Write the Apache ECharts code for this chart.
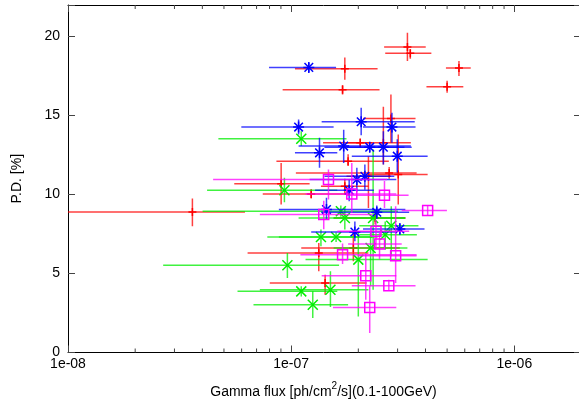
<!DOCTYPE html>
<html><head><meta charset="utf-8">
<script src="https://cdn.jsdelivr.net/npm/echarts@6/dist/echarts.min.js"></script>
<style>html,body{margin:0;padding:0;background:#fff}#c{width:579px;height:405px}</style>
</head><body><div id="c"></div>
<script>
// tick values / labels
const xTickValues = [1e-8, 1e-7, 1e-6];
const xTickLabels = ['1e-08', '1e-07', '1e-06'];
const xMinorTicks = [2e-8,3e-8,4e-8,5e-8,6e-8,7e-8,8e-8,9e-8,2e-7,3e-7,4e-7,5e-7,6e-7,7e-7,8e-7,9e-7];
const yTickValues = [0, 5, 10, 15, 20];
const yTickLabels = ['0', '5', '10', '15', '20'];
const xMin = 1e-8, xMax = 1.95e-6, yMin = 0, yMax = 22;

// each row: [flux, PD, fluxLow, fluxHigh, PDLow, PDHigh]
const redPoints = [
  [3.32e-7, 19.34, 2.61e-7, 4.01e-7, 18.46, 20.25],
  [3.42e-7, 18.94, 2.64e-7, 4.25e-7, 18.6, 19.2],
  [5.65e-7, 18.01, 4.94e-7, 6.38e-7, 17.5, 18.46],
  [5.00e-7, 16.83, 4.04e-7, 5.91e-7, 16.45, 17.2],
  [1.74e-7, 17.97, 1.04e-7, 2.44e-7, 17.27, 18.67],
  [1.70e-7, 16.64, 9.16e-8, 2.49e-7, 16.34, 16.93],
  [3.61e-8, 8.90, 5.0e-9, 6.21e-8, 7.99, 9.75],
  [2.80e-7, 14.82, 2.10e-7, 3.61e-7, 13.28, 16.34],
  [2.59e-7, 13.28, 1.39e-7, 3.44e-7, 11.9, 15.56],
  [2.04e-7, 13.28, 1.77e-7, 2.31e-7, 13.0, 13.55],
  [1.80e-7, 12.11, 8.59e-8, 2.74e-7, 11.8, 12.55],
  [3.02e-7, 11.27, 2.22e-7, 4.09e-7, 9.37, 13.8],
  [2.75e-7, 11.37, 1.05e-7, 3.65e-7, 11.0, 11.75],
  [9.02e-8, 10.68, 5.56e-8, 1.21e-7, 9.37, 12.0],
  [1.23e-7, 10.04, 7.46e-8, 1.82e-7, 9.75, 10.35],
  [1.74e-7, 10.53, 1.36e-7, 2.22e-7, 10.0, 11.0],
  [2.22e-7, 11.16, 1.77e-7, 2.80e-7, 9.15, 12.43],
  [1.33e-7, 6.30, 6.38e-8, 2.22e-7, 5.14, 6.93],
  [1.42e-7, 4.40, 8.02e-8, 2.18e-7, 3.66, 4.93],
  [1.90e-7, 6.62, 1.11e-7, 3.07e-7, 5.77, 7.57],
  [2.38e-7, 8.52, 1.55e-7, 3.25e-7, 8.1, 9.0]
];
const greenPoints = [
  [1.11e-7, 13.53, 4.72e-8, 1.77e-7, 13.07, 14.0],
  [9.33e-8, 10.27, 4.20e-8, 1.61e-7, 9.51, 11.06],
  [9.62e-8, 5.52, 2.67e-8, 1.64e-7, 4.71, 6.3],
  [1.11e-7, 3.87, 5.75e-8, 1.61e-7, 3.55, 4.2],
  [1.50e-7, 3.97, 7.24e-8, 2.22e-7, 2.88, 5.14],
  [1.25e-7, 3.02, 6.78e-8, 1.80e-7, 2.18, 3.87],
  [1.36e-7, 7.31, 7.82e-8, 2.31e-7, 6.72, 7.78],
  [1.59e-7, 7.31, 8.81e-8, 2.44e-7, 7.0, 7.6],
  [1.67e-7, 8.94, 4.01e-8, 3.01e-7, 8.6, 9.3],
  [1.74e-7, 8.52, 1.08e-7, 3.25e-7, 7.78, 9.15],
  [2.00e-7, 5.88, 1.16e-7, 4.09e-7, 2.28, 7.67],
  [2.27e-7, 6.62, 1.55e-7, 3.32e-7, 4.19, 7.57],
  [2.33e-7, 8.52, 1.55e-7, 3.25e-7, 3.97, 12.85],
  [2.81e-7, 8.03, 2.02e-7, 3.72e-7, 6.09, 9.26],
  [2.64e-7, 7.46, 2.02e-7, 3.66e-7, 6.5, 8.3]
];
const bluePoints = [
  [1.20e-7, 18.05, 7.96e-8, 1.59e-7, 17.75, 18.35],
  [1.08e-7, 14.27, 5.98e-8, 1.55e-7, 13.8, 14.75],
  [2.06e-7, 14.61, 1.37e-7, 3.58e-7, 13.76, 15.5],
  [2.83e-7, 14.27, 2.10e-7, 3.61e-7, 13.28, 15.18],
  [1.34e-7, 12.64, 1.04e-7, 1.61e-7, 11.7, 13.6],
  [1.72e-7, 13.07, 1.08e-7, 3.44e-7, 12.0, 14.1],
  [2.25e-7, 13.0, 1.41e-7, 3.22e-7, 12.7, 13.3],
  [2.59e-7, 13.0, 1.77e-7, 3.47e-7, 11.9, 14.0],
  [2.99e-7, 12.43, 1.87e-7, 4.09e-7, 11.4, 13.5],
  [1.97e-7, 10.95, 1.21e-7, 2.96e-7, 10.2, 11.7],
  [2.14e-7, 11.16, 1.41e-7, 2.90e-7, 10.3, 11.9],
  [1.82e-7, 10.27, 1.28e-7, 2.35e-7, 9.58, 10.95],
  [1.44e-7, 9.05, 8.81e-8, 3.25e-7, 8.41, 9.79],
  [2.42e-7, 8.88, 1.36e-7, 3.38e-7, 8.45, 9.3],
  [1.93e-7, 7.63, 1.23e-7, 2.95e-7, 7.04, 8.3],
  [3.07e-7, 7.82, 2.10e-7, 3.96e-7, 7.45, 8.2]
];
const magentaPoints = [
  [1.47e-7, 10.95, 4.47e-8, 2.69e-7, 9.68, 11.59],
  [1.87e-7, 10.04, 1.16e-7, 2.96e-7, 8.84, 12.0],
  [2.62e-7, 9.96, 1.77e-7, 3.36e-7, 9.15, 10.85],
  [4.09e-7, 8.99, 3.13e-7, 4.99e-7, 8.7, 9.3],
  [1.40e-7, 8.73, 7.24e-8, 2.31e-7, 7.8, 9.6],
  [2.40e-7, 7.67, 1.61e-7, 3.38e-7, 6.6, 8.4],
  [2.49e-7, 6.87, 1.80e-7, 3.13e-7, 5.9, 7.6],
  [1.70e-7, 6.19, 1.10e-7, 3.65e-7, 5.6, 6.9],
  [2.94e-7, 6.13, 1.99e-7, 3.65e-7, 4.4, 9.26],
  [2.16e-7, 4.86, 1.37e-7, 2.96e-7, 3.34, 6.3],
  [2.74e-7, 4.23, 1.87e-7, 3.61e-7, 3.9, 4.6],
  [2.25e-7, 2.85, 1.54e-7, 2.96e-7, 1.23, 4.19]
];

const FONT = 'Liberation Sans, Arial, sans-serif';
function labelFor(values, labels, v) {
  for (let i = 0; i < values.length; i++) {
    if (Math.abs(v - values[i]) <= Math.abs(values[i]) * 1e-6 + 1e-12) return labels[i];
  }
  return '';
}

function makeRender(color, shape) {
  return function (params, api) {
    const x = api.value(0), y = api.value(1);
    const c = api.coord([x, y]);
    const l = api.coord([api.value(2), y]);
    const r = api.coord([api.value(3), y]);
    const b = api.coord([x, api.value(4)]);
    const t = api.coord([x, api.value(5)]);
    const bar = { stroke: color, lineWidth: 1.5, opacity: 0.75 };
    const mk = { stroke: color, lineWidth: 1.5, fill: null };
    const ch = [
      { type: 'line', shape: { x1: l[0], y1: c[1], x2: r[0], y2: c[1] }, style: bar },
      { type: 'line', shape: { x1: c[0], y1: b[1], x2: c[0], y2: t[1] }, style: bar }
    ];
    const cx = c[0], cy = c[1];
    if (shape === 'plus' || shape === 'star') {
      const s = shape === 'plus' ? 4 : 5.5;
      ch.push({ type: 'line', shape: { x1: cx - s, y1: cy, x2: cx + s, y2: cy }, style: mk });
      ch.push({ type: 'line', shape: { x1: cx, y1: cy - s, x2: cx, y2: cy + s }, style: mk });
    }
    if (shape === 'cross' || shape === 'star') {
      const d = shape === 'cross' ? 5 : 4.3;
      ch.push({ type: 'line', shape: { x1: cx - d, y1: cy - d, x2: cx + d, y2: cy + d }, style: mk });
      ch.push({ type: 'line', shape: { x1: cx - d, y1: cy + d, x2: cx + d, y2: cy - d }, style: mk });
    }
    if (shape === 'square') {
      ch.push({ type: 'rect', shape: { x: cx - 5, y: cy - 5, width: 10, height: 10 }, style: mk });
    }
    return { type: 'group', children: ch };
  };
}

function pointSeries(data, color, shape) {
  return {
    type: 'custom', xAxisIndex: 0, yAxisIndex: 0, clip: true, silent: true,
    encode: { x: 0, y: 1 },
    data: data,
    renderItem: makeRender(color, shape)
  };
}

const chart = echarts.init(document.getElementById('c'), null, { renderer: 'canvas' });
const axisLineStyle = { color: '#000', width: 1 };
const tickStyle = { color: '#444', width: 1 };
chart.setOption({
  animation: false,
  backgroundColor: '#fff',
  grid: { left: 68, top: 5, right: 0, bottom: 52.5, containLabel: false, outerBoundsMode: 'none' },
  xAxis: [{
    type: 'log', logBase: 10, min: xMin, max: xMax, position: 'bottom',
    axisLine: { show: true, onZero: false, lineStyle: axisLineStyle },
    axisTick: { show: true, inside: true, length: 7, lineStyle: tickStyle },
    minorTick: { show: false }, splitLine: { show: false },
    axisLabel: { formatter: v => labelFor(xTickValues, xTickLabels, v), color: '#000', fontSize: 14, fontFamily: FONT, margin: 5 },
    name: '{a|Gamma flux [ph/cm}{s|2}{a|/s](0.1-100GeV)}',
    nameLocation: 'middle', nameGap: 29,
    nameTextStyle: {
      fontFamily: FONT, color: '#000',
      rich: {
        a: { fontSize: 14, fontFamily: FONT, color: '#000', lineHeight: 18, verticalAlign: 'bottom' },
        s: { fontSize: 10, fontFamily: FONT, color: '#000', lineHeight: 18, verticalAlign: 'top' }
      }
    }
  }, {
    type: 'log', logBase: 10, min: xMin, max: xMax, position: 'top',
    axisLine: { show: true, onZero: false, lineStyle: axisLineStyle },
    axisTick: { show: true, inside: true, length: 7, lineStyle: tickStyle },
    axisLabel: { show: false }, splitLine: { show: false }
  }],
  yAxis: [{
    type: 'value', min: yMin, max: yMax, interval: 5, position: 'left',
    axisLine: { show: true, onZero: false, lineStyle: axisLineStyle },
    axisTick: { show: true, inside: true, length: 7, lineStyle: tickStyle },
    splitLine: { show: false },
    axisLabel: { formatter: v => labelFor(yTickValues, yTickLabels, v), color: '#000', fontSize: 14, fontFamily: FONT, margin: 8 },
    name: 'P.D. [%]', nameLocation: 'middle', nameGap: 44, nameRotate: 90,
    nameTextStyle: { fontSize: 14, fontFamily: FONT, color: '#000' }
  }, {
    type: 'value', min: yMin, max: yMax, interval: 5, position: 'right',
    axisLine: { show: false, onZero: false, lineStyle: axisLineStyle },
    axisTick: { show: true, inside: true, length: 5, lineStyle: tickStyle },
    axisLabel: { show: false }, splitLine: { show: false }
  }],
  series: [
    {
      type: 'custom', xAxisIndex: 0, yAxisIndex: 0, clip: false, silent: true,
      encode: { x: 0, y: 1 },
      data: xMinorTicks.map(v => [v, 0]),
      renderItem: function (params, api) {
        const cs = params.coordSys;
        const p = api.coord([api.value(0), 0]);
        const st = { stroke: '#444', lineWidth: 1 };
        return { type: 'group', children: [
          { type: 'line', shape: { x1: p[0], y1: cs.y + cs.height, x2: p[0], y2: cs.y + cs.height - 4 }, style: st },
          { type: 'line', shape: { x1: p[0], y1: cs.y, x2: p[0], y2: cs.y + 4 }, style: st }
        ] };
      }
    },
    pointSeries(redPoints, '#ff0000', 'plus'),
    pointSeries(greenPoints, '#00ee00', 'cross'),
    pointSeries(bluePoints, '#0000ff', 'star'),
    pointSeries(magentaPoints, '#ff00ff', 'square')
  ]
});
</script>
</body></html>
